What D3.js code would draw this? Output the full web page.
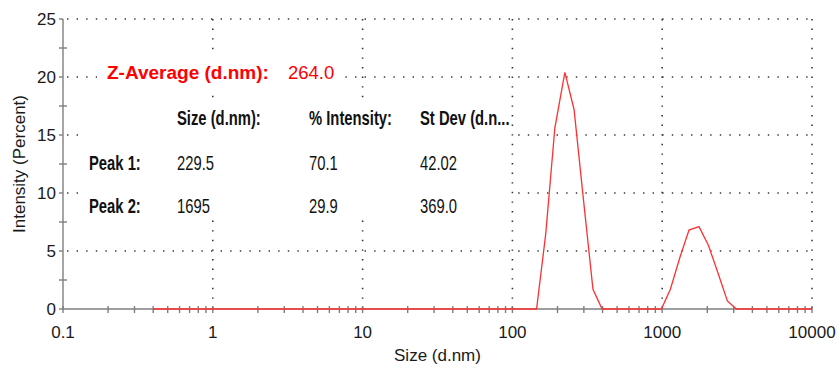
<!DOCTYPE html>
<html>
<head>
<meta charset="utf-8">
<script src="https://cdn.jsdelivr.net/npm/d3@7"></script>
<style>
  body { margin: 0; background: #fff; }
  text { font-family: "Liberation Sans", Arial, sans-serif; }
</style>
</head>
<body>
<div id="chart"></div>
<script>
// size distribution by intensity, vertices
const sizes = [0.4, 145, 167, 192, 224, 258, 296, 345, 397, 988, 1134, 1309, 1510, 1760, 2034, 2357, 2723, 3126, 10000];
const intensity = [0, 0, 6.5, 15.6, 20.4, 17.2, 9.8, 1.7, 0, 0, 1.7, 4.4, 6.8, 7.1, 5.5, 3.1, 0.7, 0, 0];

const xTicks = [0.1, 1, 10, 100, 1000, 10000];
const yTicks = [0, 5, 10, 15, 20, 25];

const zAverage = "264.0";
const tableHeads = ["Size (d.nm):", "% Intensity:", "St Dev (d.n..."];
const peakNames = ["Peak 1:", "Peak 2:"];
const peakSize = ["229.5", "1695"];
const peakPct = ["70.1", "29.9"];
const peakSd = ["42.02", "369.0"];

const width = 837;
const height = 369;
const margin = { top: 19, right: 25, bottom: 60, left: 63 };

const svg = d3.select("#chart").append("svg")
    .attr("width", width)
    .attr("height", height);

const x = d3.scaleLog()
    .domain([0.1, 10000])
    .range([margin.left, width - margin.right]);

const y = d3.scaleLinear()
    .domain([0, 25])
    .range([height - margin.bottom, margin.top]);

const x0 = x.range()[0], x1 = x.range()[1];
const y0 = y.range()[0], y1 = y.range()[1];

// dotted grid
const grid = svg.append("g")
    .attr("stroke", "#333")
    .attr("stroke-width", 1.6)
    .attr("stroke-dasharray", "1.4 8.2");

grid.selectAll("line.h")
  .data(yTicks.filter(d => d > 0))
  .join("line")
    .attr("class", "h")
    .attr("x1", x0 + 4).attr("x2", x1)
    .attr("y1", d => y(d)).attr("y2", d => y(d));

grid.selectAll("line.v")
  .data(xTicks.filter(d => d > 0.1))
  .join("line")
    .attr("class", "v")
    .attr("x1", d => x(d)).attr("x2", d => x(d))
    .attr("y1", y1).attr("y2", y0);

// axes
const axisColor = "#7f7f7f";
const axes = svg.append("g").attr("stroke", axisColor).attr("stroke-width", 1.4);

axes.append("line").attr("x1", x0).attr("x2", x0).attr("y1", y1).attr("y2", y0);
axes.append("line").attr("x1", x0).attr("x2", x1).attr("y1", y0).attr("y2", y0);

// y ticks: major on left, minor crossing
axes.selectAll("line.ymaj")
  .data(yTicks)
  .join("line")
    .attr("x1", x0 - 4).attr("x2", x0)
    .attr("y1", d => y(d)).attr("y2", d => y(d));

axes.selectAll("line.ymin")
  .data(d3.range(2.5, 25, 5))
  .join("line")
    .attr("x1", x0 - 4).attr("x2", x0 + 4)
    .attr("y1", d => y(d)).attr("y2", d => y(d));

// x ticks: every 1..9 per decade, crossing the axis
const xMinor = [];
xTicks.slice(0, -1).forEach(t => { for (let k = 1; k < 10; k++) xMinor.push(t * k); });
xMinor.push(10000);

axes.selectAll("line.xt")
  .data(xMinor)
  .join("line")
    .attr("x1", d => x(d)).attr("x2", d => x(d))
    .attr("y1", y0 - 3).attr("y2", y0 + 4);

// tick labels
svg.append("g")
  .selectAll("text")
  .data(yTicks)
  .join("text")
    .attr("x", x0 - 7)
    .attr("y", d => y(d))
    .attr("dy", "0.35em")
    .attr("text-anchor", "end")
    .attr("font-size", 17)
    .attr("fill", "#1a1a1a")
    .text(d => d);

svg.append("g")
  .selectAll("text")
  .data(xTicks)
  .join("text")
    .attr("x", d => x(d))
    .attr("y", y0 + 29)
    .attr("text-anchor", "middle")
    .attr("font-size", 17)
    .attr("fill", "#1a1a1a")
    .text(d => d);

// axis titles
svg.append("text")
    .attr("x", (x0 + x1) / 2)
    .attr("y", 361)
    .attr("text-anchor", "middle")
    .attr("font-size", 17)
    .attr("fill", "#1a1a1a")
    .text("Size (d.nm)");

svg.append("text")
    .attr("transform", `translate(25,${(y0 + y1) / 2}) rotate(-90)`)
    .attr("text-anchor", "middle")
    .attr("font-size", 17)
    .attr("fill", "#1a1a1a")
    .text("Intensity (Percent)");

// white panels behind the result text
svg.append("rect")
    .attr("x", 97).attr("y", 55).attr("width", 243).attr("height", 38)
    .attr("fill", "#fff");
svg.append("rect")
    .attr("x", 84).attr("y", 101).attr("width", 426).attr("height", 119)
    .attr("fill", "#fff");

// distribution line
const line = d3.line()
    .x((d, i) => x(sizes[i]))
    .y(d => y(d));

svg.append("path")
    .datum(intensity)
    .attr("fill", "none")
    .attr("stroke", "#ff3030")
    .attr("stroke-width", 1.3)
    .attr("d", line);

// results table
svg.append("text")
    .attr("x", 107).attr("y", 79)
    .attr("font-size", 19)
    .attr("font-weight", "bold")
    .attr("fill", "#ff0000")
    .text("Z-Average (d.nm):");

svg.append("text")
    .attr("x", 288).attr("y", 79)
    .attr("font-size", 18.5)
    .attr("fill", "#ff0000")
    .text(zAverage);

const colX = [177, 309, 420];
const rowY = [170, 213];

function narrow(txt, px, py, bold) {
  svg.append("text")
      .attr("transform", `translate(${px},${py}) scale(0.74,1)`)
      .attr("font-size", 20)
      .attr("font-weight", bold ? "bold" : "normal")
      .attr("fill", "#111")
      .text(txt);
}

tableHeads.forEach((h, i) => narrow(h, colX[i], 125, true));
peakNames.forEach((p, r) => {
  narrow(p, 89, rowY[r], true);
  narrow(peakSize[r], colX[0], rowY[r], false);
  narrow(peakPct[r], colX[1], rowY[r], false);
  narrow(peakSd[r], colX[2], rowY[r], false);
});
</script>
</body>
</html>
